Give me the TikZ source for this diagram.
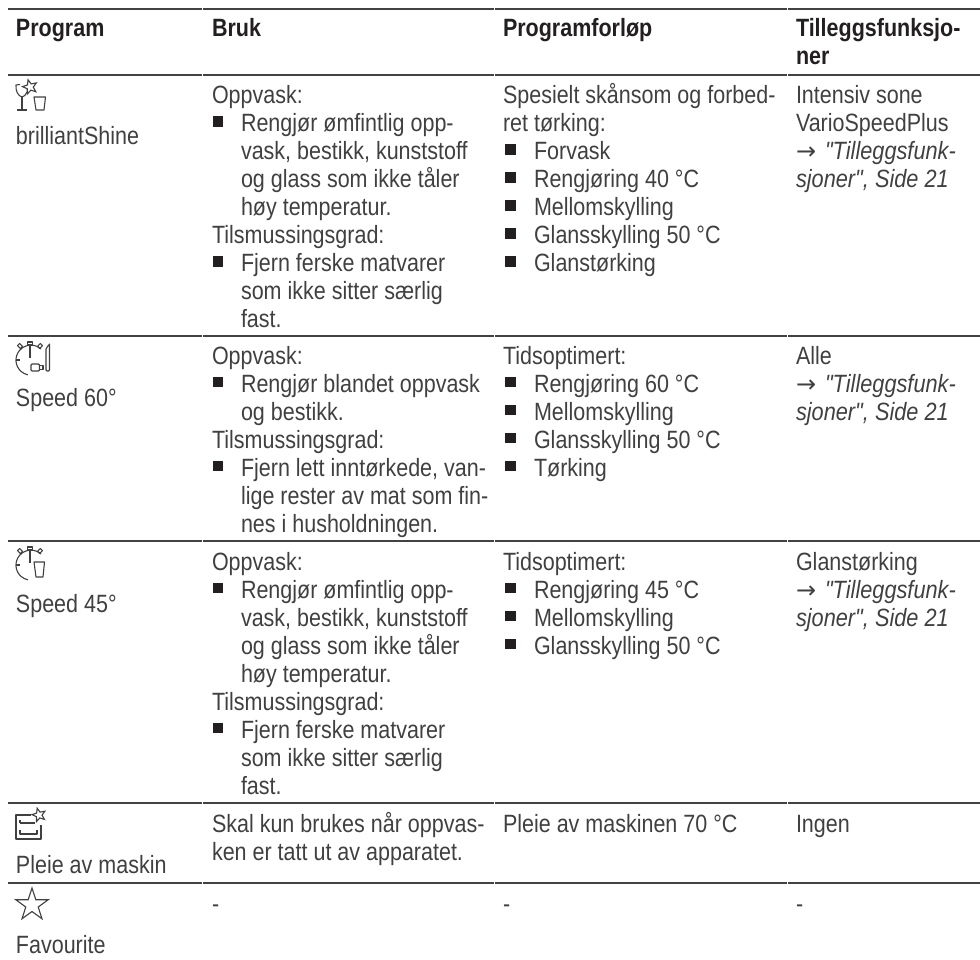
\documentclass[tikz,border=0pt]{standalone}
\usepackage{fontspec}
\setmainfont[FakeStretch=0.86]{Liberation Sans}
\newfontfamily\plainfam[FakeStretch=0.87]{Liberation Sans}
\newfontfamily\arrowfam{DejaVu Sans}
\usetikzlibrary{shapes.geometric}
\definecolor{ink}{HTML}{404040}
\definecolor{head}{HTML}{231F20}
\tikzset{
  txt/.style={anchor=base west,inner sep=0pt,outer sep=0pt,text=ink,font=\fontsize{25}{28}\selectfont},
  hdr/.style={anchor=base west,inner sep=0pt,outer sep=0pt,text=head,font=\fontsize{25}{28}\selectfont\bfseries},
  bul/.style={anchor=south west,fill=head,draw=none,inner sep=0pt,minimum size=10.5pt},
  rulea/.style={line width=1.9pt,draw=head!85},
  ico/.style={line width=1.1pt,draw=ink,line join=round},
  icostar/.style={draw=ink,line width=1.1pt,star,star points=5,star point ratio=2.3,inner sep=0pt,outer sep=0pt}
}
\newcommand\Ln[4]{\node[txt] (#1) at (#2,#3) {#4};}
\newcommand\Hd[4]{\node[hdr] (#1) at (#2,#3) {#4};}
\newcommand\Bu[3]{\node[bul] (#1) at (#2,#3-4.5) {};}
\newcommand\RefA{\makebox[29pt][l]{\arrowfam\fontsize{24}{28}\selectfont →}\plainfam\itshape "Tilleggsfunk-}
\newcommand\RefB{\plainfam\itshape sjoner", Side 21}
\newcommand\Rule[1]{%
  \draw[rulea] (8,#1) -- (202,#1);
  \draw[rulea] (203,#1) -- (493.5,#1);
  \draw[rulea] (494.5,#1) -- (787,#1);
  \draw[rulea] (788,#1) -- (980,#1);}
\begin{document}
\begin{tikzpicture}[x=1pt,y=-1pt]
\useasboundingbox (0,0) rectangle (980,960);
\Rule{9}\Rule{75}\Rule{336}\Rule{541}\Rule{803}\Rule{883}
% header
\Hd{h1}{16}{37}{Program}
\Hd{h2}{212}{37}{Bruk}
\Hd{h3}{503}{37}{Programforløp}
\Hd{h4}{796}{37}{Tilleggsfunksjo-}
\Hd{h5}{796}{65}{ner}
% row 1
\Ln{a1}{16}{145}{brilliantShine}
\Ln{a2}{212}{103.5}{Oppvask:}
\Bu{a3}{212.5}{131.5}\Ln{a4}{241}{131.5}{Rengjør ømfintlig opp-}
\Ln{a5}{241}{159.5}{vask, bestikk, kunststoff}
\Ln{a6}{241}{187.5}{og glass som ikke tåler}
\Ln{a7}{241}{215.5}{høy temperatur.}
\Ln{a8}{212}{243.5}{Tilsmussingsgrad:}
\Bu{a9}{212.5}{271.5}\Ln{a10}{241}{271.5}{Fjern ferske matvarer}
\Ln{a11}{241}{299.5}{som ikke sitter særlig}
\Ln{a12}{241}{327.5}{fast.}
\Ln{a13}{503}{103.5}{Spesielt skånsom og forbed-}
\Ln{a14}{503}{131.5}{ret tørking:}
\Bu{a15}{505}{159.5}\Ln{a16}{534}{159.5}{Forvask}
\Bu{a17}{505}{187.5}\Ln{a18}{534}{187.5}{Rengjøring 40 °C}
\Bu{a19}{505}{215.5}\Ln{a20}{534}{215.5}{Mellomskylling}
\Bu{a21}{505}{243.5}\Ln{a22}{534}{243.5}{Glansskylling 50 °C}
\Bu{a23}{505}{271.5}\Ln{a24}{534}{271.5}{Glanstørking}
\Ln{a25}{796}{103.5}{Intensiv sone}
\Ln{a26}{796}{131.5}{VarioSpeedPlus}
\Ln{a27}{796}{159.5}{\RefA}
\Ln{a28}{796}{187.5}{\RefB}
% row 2
\Ln{b1}{16}{406}{Speed 60°}
\Ln{b2}{212}{364}{Oppvask:}
\Bu{b3}{212.5}{392}\Ln{b4}{241}{392}{Rengjør blandet oppvask}
\Ln{b5}{241}{420}{og bestikk.}
\Ln{b6}{212}{448}{Tilsmussingsgrad:}
\Bu{b7}{212.5}{476}\Ln{b8}{241}{476}{Fjern lett inntørkede, van-}
\Ln{b9}{241}{504}{lige rester av mat som fin-}
\Ln{b10}{241}{532}{nes i husholdningen.}
\Ln{b11}{503}{364}{Tidsoptimert:}
\Bu{b12}{505}{392}\Ln{b13}{534}{392}{Rengjøring 60 °C}
\Bu{b14}{505}{420}\Ln{b15}{534}{420}{Mellomskylling}
\Bu{b16}{505}{448}\Ln{b17}{534}{448}{Glansskylling 50 °C}
\Bu{b18}{505}{476}\Ln{b19}{534}{476}{Tørking}
\Ln{b20}{796}{364}{Alle}
\Ln{b21}{796}{392}{\RefA}
\Ln{b22}{796}{420}{\RefB}
% row 3
\Ln{c1}{16}{612}{Speed 45°}
\Ln{c2}{212}{570}{Oppvask:}
\Bu{c3}{212.5}{598}\Ln{c4}{241}{598}{Rengjør ømfintlig opp-}
\Ln{c5}{241}{626}{vask, bestikk, kunststoff}
\Ln{c6}{241}{654}{og glass som ikke tåler}
\Ln{c7}{241}{682}{høy temperatur.}
\Ln{c8}{212}{710}{Tilsmussingsgrad:}
\Bu{c9}{212.5}{738}\Ln{c10}{241}{738}{Fjern ferske matvarer}
\Ln{c11}{241}{766}{som ikke sitter særlig}
\Ln{c12}{241}{794}{fast.}
\Ln{c13}{503}{570}{Tidsoptimert:}
\Bu{c14}{505}{598}\Ln{c15}{534}{598}{Rengjøring 45 °C}
\Bu{c16}{505}{626}\Ln{c17}{534}{626}{Mellomskylling}
\Bu{c18}{505}{654}\Ln{c19}{534}{654}{Glansskylling 50 °C}
\Ln{c20}{796}{570}{Glanstørking}
\Ln{c21}{796}{598}{\RefA}
\Ln{c22}{796}{626}{\RefB}
% row 4
\Ln{d1}{16}{873}{Pleie av maskin}
\Ln{d2}{212}{832}{Skal kun brukes når oppvas-}
\Ln{d3}{212}{860}{ken er tatt ut av apparatet.}
\Ln{d4}{503}{832}{Pleie av maskinen 70 °C}
\Ln{d5}{796}{832}{Ingen}
% row 5
\Ln{e1}{16}{953}{Favourite}
\Ln{e2}{212}{912}{-}
\Ln{e3}{503}{912}{-}
\Ln{e4}{796}{912}{-}
% icon: brilliantShine
\draw[ico] (22,97) -- (22,110) (17,110) -- (27,110);
\draw[ico] (20,84.5) -- (16,85) .. controls (15.5,91) and (18,96) .. (22,97) .. controls (24,96.5) and (26,95) .. (27,92);
\draw[ico] (34,97) -- (45.5,97) -- (44,110) -- (36,110) -- cycle;
\node[icostar,minimum size=15pt,rotate=15] (s1) at (30,87) {};
% icon: Speed 60
\draw[ico] (41,349) arc[start angle=-48,end angle=-258,radius=15];
\draw[ico] (30,346) -- (30,358) (16,360) -- (20,360);
\draw[ico] (27.5,342) rectangle (32.5,345);
\draw[ico,rotate around={-45:(20,346)}] (18,344.5) rectangle (22,347.5);
\draw[ico,rotate around={45:(40,346)}] (38,344.5) rectangle (42,347.5);
\draw[ico,rounded corners=1pt] (31,364) rectangle (39.5,371);
\draw[ico] (39.5,365.5) -- (43,365.5) -- (43,369.5) -- (39.5,369.5);
\draw[ico,rounded corners=1pt] (46,371) -- (46,350) .. controls (46,347) and (49.5,345) .. (49.5,345) -- (49.5,371) -- cycle;
% icon: Speed 45
\draw[ico] (41,554) arc[start angle=-48,end angle=-258,radius=15];
\draw[ico] (30,551) -- (30,563) (16,565) -- (20,565);
\draw[ico] (27.5,547) rectangle (32.5,550);
\draw[ico,rotate around={-45:(20,551)}] (18,549.5) rectangle (22,552.5);
\draw[ico,rotate around={45:(40,551)}] (38,549.5) rectangle (42,552.5);
\draw[ico] (34,562) -- (44.5,562) -- (43,577) -- (36,577) -- cycle;
% icon: Pleie
\draw[ico] (31,815) -- (16,815) -- (16,839) -- (41,839) -- (41,825);
\draw[ico] (20,823) -- (35,823) (20,820) -- (20,823);
\draw[ico] (20,830) -- (20,834) -- (37,834) -- (37,830);
\node[icostar,minimum size=14pt,rotate=15] (s2) at (39,815) {};
% icon: Favourite
\node[icostar,minimum size=34pt,star point ratio=2.6] (s3) at (32,905) {};
\end{tikzpicture}
\end{document}
